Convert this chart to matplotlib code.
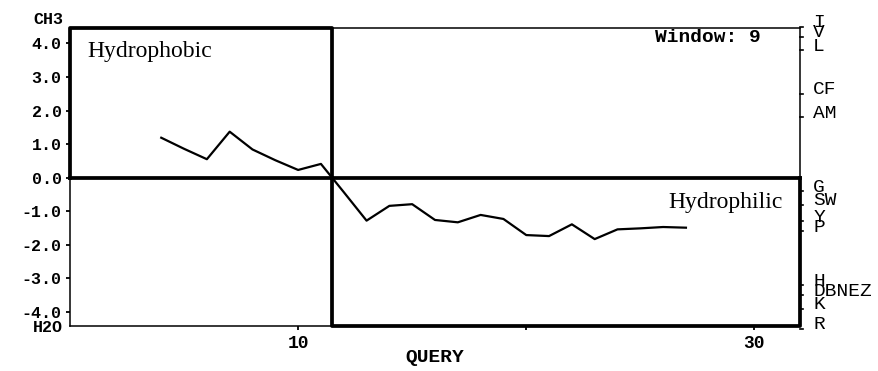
import matplotlib
matplotlib.use("Agg")
import matplotlib.pyplot as plt
import numpy as np

# Hydropathy profile (Kyte-Doolittle, window 9) along the query sequence
residues = list(range(4, 28))
hydropathy = [1.19, 0.86, 0.55, 1.37, 0.84, 0.52, 0.23, 0.41, -0.43, -1.28,
              -0.84, -0.79, -1.26, -1.33, -1.11, -1.23, -1.71, -1.74, -1.39,
              -1.83, -1.54, -1.51, -1.47, -1.49]

# Left axis scale
y_ticks = [4.0, 3.0, 2.0, 1.0, 0.0, -1.0, -2.0, -3.0, -4.0]
y_tick_labels = ["4.0", "3.0", "2.0", "1.0", "0.0", "-1.0", "-2.0", "-3.0", "-4.0"]
x_ticks = [10, 20, 30]
x_tick_labels = ["10", "", "30"]

# Amino-acid reference scale on the right edge
aa_labels = ["I", "V", "L", "CF", "AM", "G", "SW", "Y", "P", "H", "DBNEZ", "K", "R"]
aa_values = [4.5, 4.2, 3.8, 2.5, 1.8, -0.4, -0.8, -1.3, -1.6, -3.2, -3.5, -3.9, -4.5]

W, H = 879, 371
left_px, right_px, top_px, bot_px = 70, 800, 28.3, 325.7
XMIN, XMAX = 0, 32
YMIN, YMAX = -4.41, 4.45

MONO = "Liberation Mono"
SERIF = "Liberation Serif"

fig = plt.figure(figsize=(W / 100, H / 100), dpi=100)
ax = fig.add_axes([left_px / W, 1 - bot_px / H,
                   (right_px - left_px) / W, (bot_px - top_px) / H])
ax.set_xlim(XMIN, XMAX)
ax.set_ylim(YMIN, YMAX)
for s in ax.spines.values():
    s.set_visible(False)

# Where the profile crosses from hydrophobic to hydrophilic
y = np.asarray(hydropathy)
k = int(np.where(np.sign(y[:-1]) != np.sign(y[1:]))[0][0])
split = residues[k] + y[k] / (y[k] - y[k + 1]) * (residues[k + 1] - residues[k])

thin, thick = 1.1, 2.7
kw = dict(color="black", clip_on=False, solid_capstyle="projecting")
# thin outer frame
ax.plot([XMIN, XMIN], [YMIN, 0], lw=thin, **kw)
ax.plot([XMIN, split], [YMIN, YMIN], lw=thin, **kw)
ax.plot([split, XMAX], [YMAX, YMAX], lw=thin, **kw)
ax.plot([XMAX, XMAX], [0, YMAX], lw=thin, **kw)
# hydrophobic and hydrophilic quadrants
ax.plot([XMIN, XMIN, split, split], [0, YMAX, YMAX, 0], lw=thick, **kw)
ax.plot([split, split, XMAX, XMAX], [0, YMIN, YMIN, 0], lw=thick, **kw)
ax.plot([XMIN, XMAX], [0, 0], lw=thick, **kw)

# profile
ax.plot(residues, hydropathy, color="black", lw=1.6, zorder=5)

ax.set_yticks(y_ticks, y_tick_labels, fontfamily=MONO, fontweight="bold", fontsize=12)
ax.set_xticks(x_ticks, x_tick_labels, fontfamily=MONO, fontweight="bold", fontsize=13)
ax.tick_params(axis="y", direction="out", length=3, width=1.3, pad=3)
ax.tick_params(axis="x", direction="out", length=3, width=1.3, pad=4)
for t in ax.get_yticklabels():
    t.set_verticalalignment("center_baseline")

# right-hand residue scale
ytr = ax.get_yaxis_transform()
for lab, v in zip(aa_labels, aa_values):
    ax.plot([1.0, 1.004], [v, v], transform=ytr, color="black", lw=1.2, clip_on=False)
    ax.annotate(lab, xy=(1.0, v), xycoords=ytr, xytext=(9.5, -0.5),
                textcoords="offset points", ha="left", va="baseline",
                fontfamily=MONO, fontsize=14, annotation_clip=False)

def px_text(x, y, s, **kw):
    fig.text(x / W, 1 - y / H, s, **kw)

px_text(63, 20, "CH3", ha="right", va="center", fontfamily=MONO, fontweight="bold", fontsize=12)
px_text(63, 327, "H2O", ha="right", va="center", fontfamily=MONO, fontweight="bold", fontsize=12)
px_text(435, 357, "QUERY", ha="center", va="center", fontfamily=MONO, fontweight="bold", fontsize=14)
px_text(655, 38, "Window: 9", ha="left", va="center", fontfamily=MONO, fontweight="bold", fontsize=14)
px_text(87, 52, "Hydrophobic", ha="left", va="center", fontfamily=SERIF, fontsize=17)
px_text(668, 202, "Hydrophilic", ha="left", va="center", fontfamily=SERIF, fontsize=17)

fig.savefig("out.png", dpi=100, facecolor="white")
